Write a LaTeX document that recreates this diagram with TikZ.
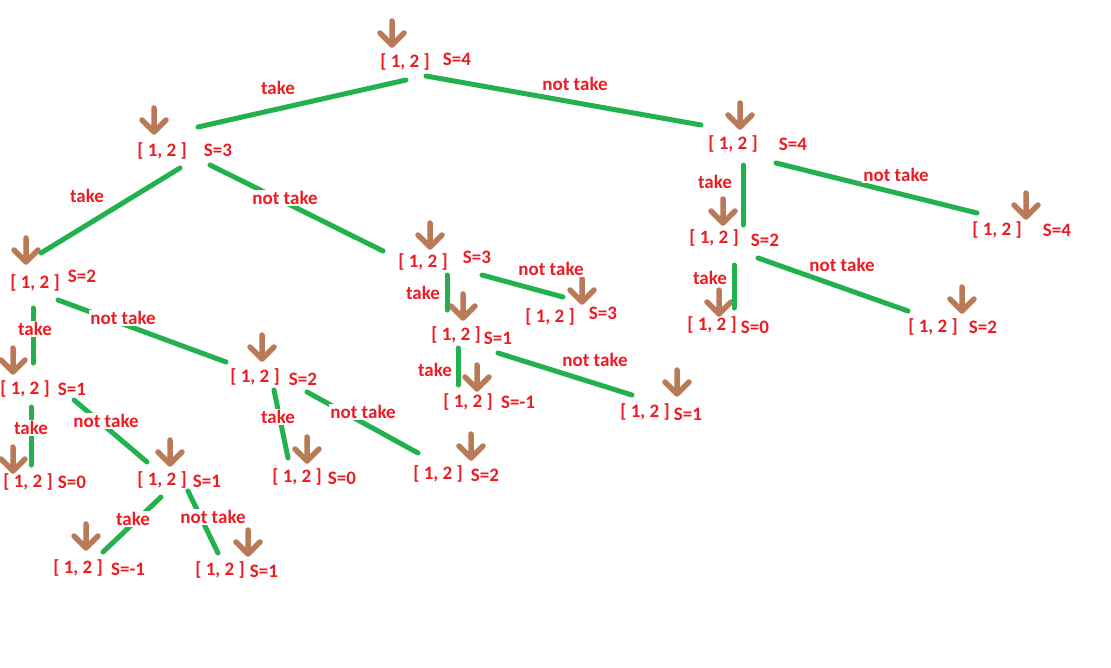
\documentclass[tikz,border=0pt]{standalone}
\usepackage{fontspec}
\setmainfont{Carlito}
\definecolor{pred}{HTML}{ED1C24}
\definecolor{pgreen}{HTML}{22B14C}
\definecolor{pbrown}{HTML}{B97A57}
\begin{document}
\begin{tikzpicture}[x=1pt,y=-1pt,
  txt/.style={text=pred,font=\fontsize{19}{21}\selectfont\bfseries,inner sep=0pt},
  lbl/.style={txt,fill=white,inner sep=1.5pt},
  edge/.style={draw=pgreen,line width=5pt,line cap=round},
  brarrow/.pic={\draw[pbrown,line width=5.5pt,line cap=round,line join=round]
     (0,-25)--(0,-1) (-12,-13)--(0,-1)--(12,-13);}]
\useasboundingbox (0,0) rectangle (1111,667);
\fill[white] (0,0) rectangle (1111,667);

% ---------- tree nodes ----------
\foreach \n/\x/\y/\s/\sx/\sy/\ax/\ay in {
  n0/405/62/S=4/457/59/392/46,
  nA/162/151/S=3/218/150/154/133,
  nB/733/144/S=4/793/144/740/128,
  nA1/35/283/S=2/82/276/26/263,
  nA2/423/262/S=3/477/257/430/248,
  nB1/714/238/S=2/765/240/723/224,
  nB2/997/230/S=4/1057/230/1026/218,
  nB1a/712/325/S=0/755/327/719/315,
  nB1b/933/327/S=2/983/327/962/312,
  nA2a/456/335/S=1/498/338/463/319,
  nA2b/550/317/S=3/603/313/582/303,
  nA2aa/468/402/S=-1/518/402/477/390,
  nA2ab/645/412/S=1/688/414/677/395,
  nA1a/25/389/S=1/72/389/13/373,
  nA1b/255/377/S=2/303/379/262/360,
  nA1aa/28/482/S=0/72/482/13/472,
  nA1ab/162/480/S=1/207/481/170/465,
  nA1ba/297/477/S=0/342/478/307/462,
  nA1bb/438/474/S=2/485/475/471/459,
  nA1aba/78/568/S=-1/128/569/86/549,
  nA1abb/220/570/S=1/264/571/248/555}{
  \node[txt] (\n) at (\x,\y) {[ 1, 2 ]};
  \node[txt] (\n-s) at (\sx,\sy) {\s};
  \pic at (\ax,\ay) {brarrow};
}

% ---------- connectors ----------
\foreach \e/\ax/\ay/\bx/\by/\l/\lx/\ly in {
  e1/198/127/406/80/take/278/88,
  e2/426/76/701/125/not take/575/84,
  e3/180/168/41/253/take/87/196,
  e4/210/165/383/251/not take/285/198,
  e5/743/165/743/225/take/715/182,
  e6/776/163/977/213/not take/896/175,
  e7/734/265/734/308/take/710/278,
  e8/758/258/908/311/not take/842/265,
  e9/447/275/447/310/take/423/293,
  e10/482/275/563/297/not take/551/269,
  e11/458/348/458/385/take/435/370,
  e12/498/353/632/395/not take/595/360,
  e13/33/308/33/363/take/35/329,
  e14/58/300/226/362/not take/123/318,
  e15/31/407/31/465/take/31/428,
  e16/74/400/147/462/not take/106/421,
  e17/274/390/288/458/take/278/417,
  e18/307/392/418/453/not take/363/412,
  e19/161/497/103/552/take/133/519,
  e20/188/491/218/553/not take/213/517}{
  \coordinate (\e-a) at (\ax,\ay);
  \coordinate (\e-b) at (\bx,\by);
  \draw[edge] (\e-a) -- (\e-b);
  \node[lbl] (\e-l) at (\lx,\ly) {\l};
}
\end{tikzpicture}
\end{document}
